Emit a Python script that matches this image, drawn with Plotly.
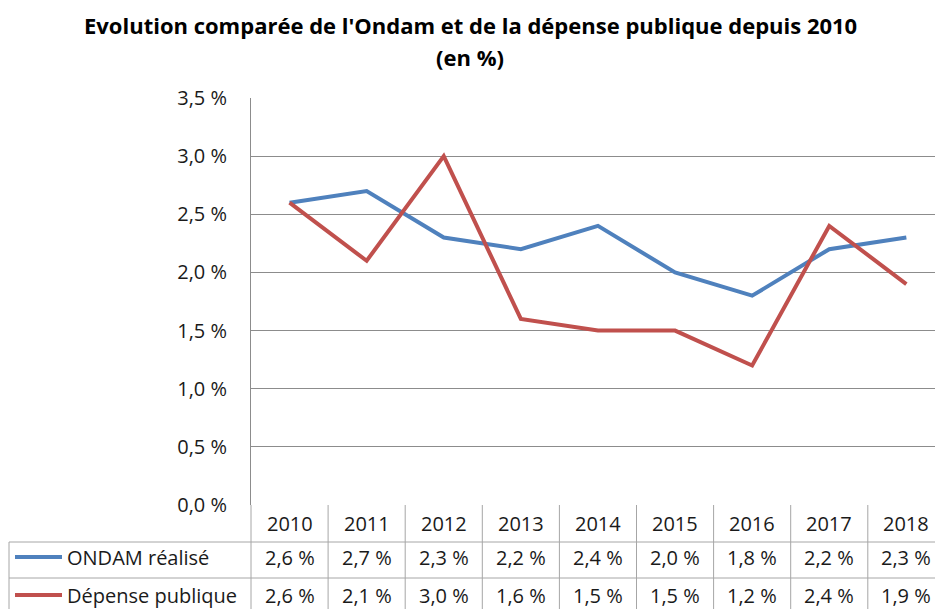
import plotly.graph_objects as go

years = ["2010", "2011", "2012", "2013", "2014", "2015", "2016", "2017", "2018"]
ondam = [2.6, 2.7, 2.3, 2.2, 2.4, 2.0, 1.8, 2.2, 2.3]
depense = [2.6, 2.1, 3.0, 1.6, 1.5, 1.5, 1.2, 2.4, 1.9]
series_names = ["ONDAM réalisé", "Dépense publique"]
series_colors = ["#4F81BD", "#C0504D"]
y_ticks = [0.0, 0.5, 1.0, 1.5, 2.0, 2.5, 3.0, 3.5]
title_line1 = "Evolution comparée de l'Ondam et de la dépense publique depuis 2010"
title_line2 = "(en %)"


def fr(v):
    return f"{v:.1f}".replace(".", ",") + "\u00a0%"


# page body margin is removed by the post script, so figure pixels = window pixels
OFF = 0
WIN_W, WIN_H = 935, 609
W, H = WIN_W - OFF, WIN_H - OFF
PL, PT, PB = 251 - OFF, 98 - OFF, 505 - OFF
PR = W
PW, PH = PR - PL, PB - PT
COLW = 77.1
XMIN = -0.5
XMAX = XMIN + PW / COLW


def px2x(p):
    return (p - OFF - PL) / PW


def py2y(p):
    return (PB - (p - OFF)) / PH


def idx2paper(v):
    return (v - XMIN) / (XMAX - XMIN)


FONT = "Open Sans, Carlito, Liberation Sans, sans-serif"
TXT = "#1a1a1a"
GRID = "#8c8c8c"
TGRID = "#a6a6a6"
FS = 20

fig = go.Figure()
for name, vals, col in zip(series_names, [ondam, depense], series_colors):
    fig.add_trace(go.Scatter(x=years, y=vals, mode="lines", name=name,
                             line=dict(color=col, width=4), showlegend=False,
                             hoverinfo="skip"))

shapes = []
# table vertical lines at column boundaries
for k in range(len(years) + 1):
    xb = idx2paper(k - 0.5)
    shapes.append(dict(type="line", xref="paper", yref="paper", x0=xb, x1=xb,
                       y0=py2y(505), y1=py2y(WIN_H + 5), line=dict(color=TGRID, width=1)))
# horizontal lines of rows
row_lines = [542, 578]
for r in row_lines:
    shapes.append(dict(type="line", xref="paper", yref="paper", x0=px2x(9), x1=px2x(WIN_W + 5),
                       y0=py2y(r), y1=py2y(r), line=dict(color=TGRID, width=1)))
# left border of legend column
shapes.append(dict(type="line", xref="paper", yref="paper", x0=px2x(9), x1=px2x(9),
                   y0=py2y(542), y1=py2y(WIN_H + 5), line=dict(color=TGRID, width=1)))

annotations = []
# title
annotations.append(dict(text=f"<b>{title_line1}</b>", xref="paper", yref="paper",
                        x=px2x(470), y=py2y(25), showarrow=False, xanchor="center", yanchor="middle",
                        font=dict(family=FONT, size=22, color="#000000")))
annotations.append(dict(text=f"<b>{title_line2}</b>", xref="paper", yref="paper",
                        x=px2x(470), y=py2y(57), showarrow=False, xanchor="center", yanchor="middle",
                        font=dict(family=FONT, size=22, color="#000000")))
# header row
for i, yr in enumerate(years):
    annotations.append(dict(text=yr, xref="x", yref="paper", x=i, y=py2y(523),
                            showarrow=False, xanchor="center", yanchor="middle",
                            font=dict(family=FONT, size=FS, color=TXT)))
# data rows
row_centers = [557, 595]
for vals, name, col, rc in zip([ondam, depense], series_names, series_colors, row_centers):
    shapes.append(dict(type="line", xref="paper", yref="paper", x0=px2x(15), x1=px2x(62),
                       y0=py2y(rc), y1=py2y(rc), line=dict(color=col, width=4)))
    annotations.append(dict(text=name, xref="paper", yref="paper", x=px2x(65), y=py2y(rc),
                            showarrow=False, xanchor="left", yanchor="middle",
                            font=dict(family=FONT, size=FS, color=TXT)))
    for i, v in enumerate(vals):
        annotations.append(dict(text=fr(v), xref="x", yref="paper", x=i, y=py2y(rc),
                                showarrow=False, xanchor="center", yanchor="middle",
                                font=dict(family=FONT, size=FS, color=TXT)))

fig.update_layout(
    width=W, height=H,
    margin=dict(l=PL, r=W - PR, t=PT, b=H - PB, pad=0),
    paper_bgcolor="white", plot_bgcolor="white",
    shapes=shapes, annotations=annotations,
    xaxis=dict(type="category", range=[XMIN, XMAX], showticklabels=False, showgrid=False,
               zeroline=False, showline=False, ticks=""),
    yaxis=dict(range=[0, 3.5], tickvals=y_ticks, ticktext=[fr(v) for v in y_ticks],
               showgrid=True, gridcolor=GRID, gridwidth=1, zeroline=False,
               showline=True, linecolor=GRID, linewidth=1,
               ticks="outside", ticklen=19, tickcolor="rgba(0,0,0,0)",
               tickfont=dict(family=FONT, size=FS, color=TXT)),
    showlegend=False,
)

fig.write_html(
    "out.html",
    config={"displayModeBar": False},
    post_script="document.body.style.margin='0';document.body.style.overflow='hidden';",
)
